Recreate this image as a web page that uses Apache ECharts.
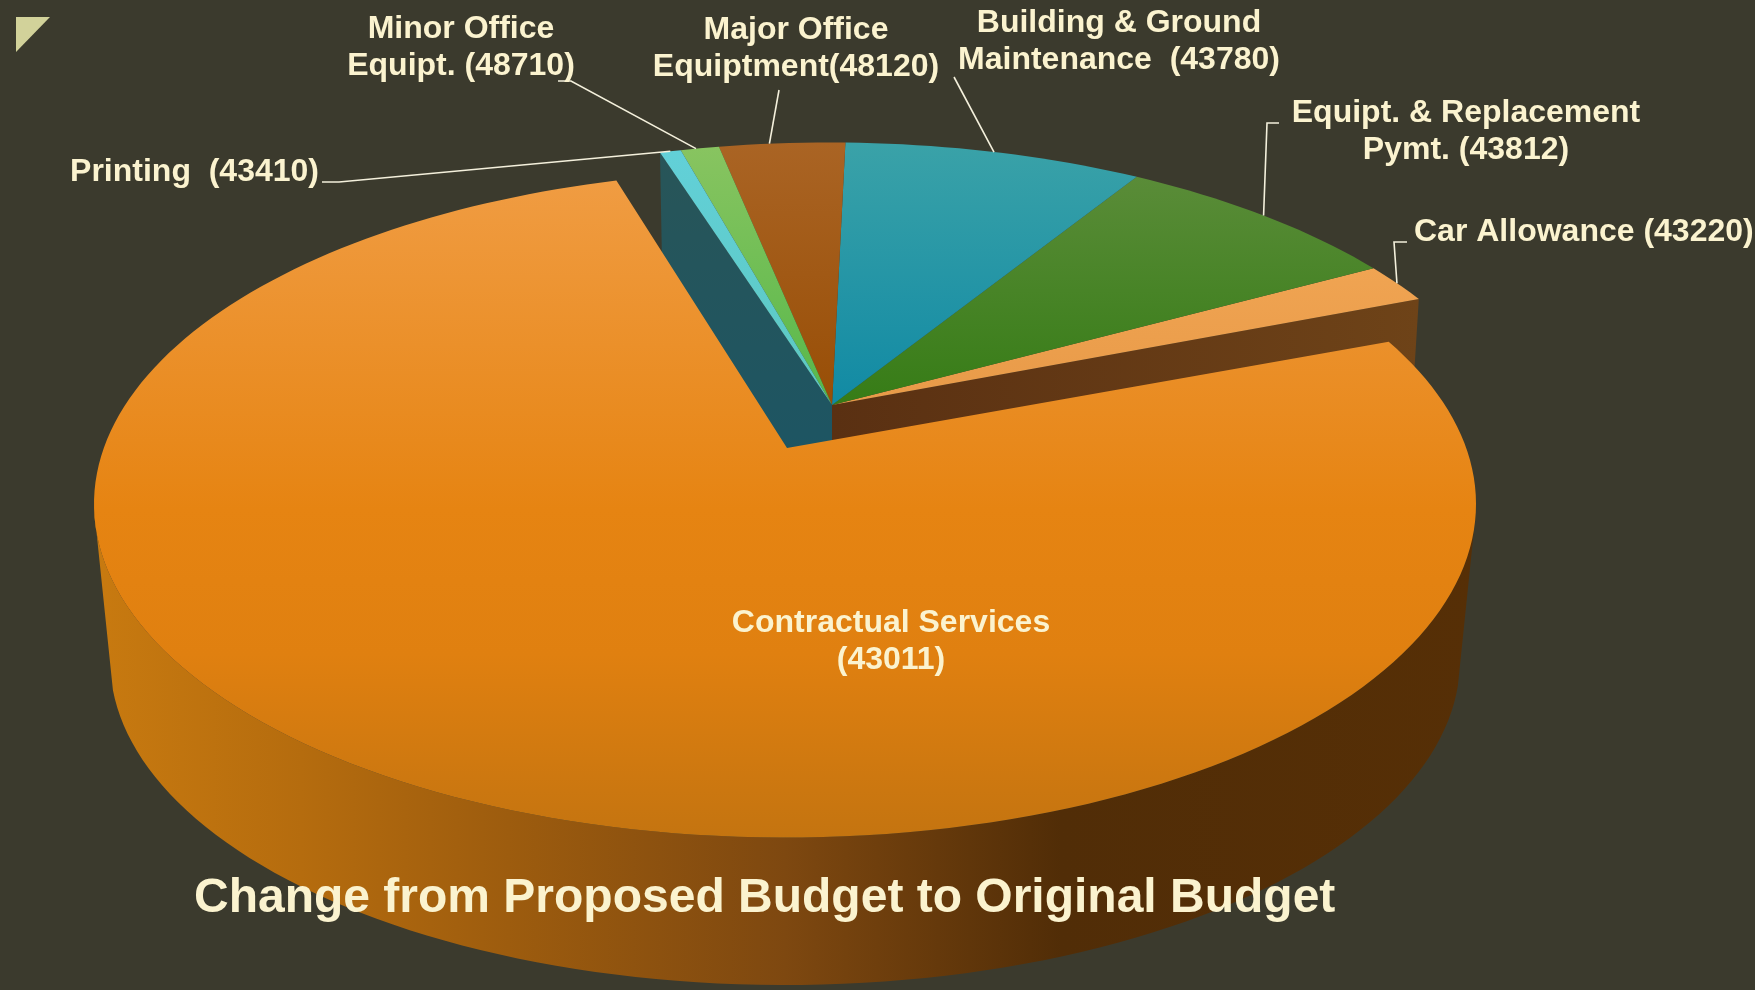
<!DOCTYPE html>
<html><head><meta charset="utf-8">
<style>html,body{margin:0;padding:0;background:#3b3a2d}#c{width:1755px;height:990px}</style>
<script src="https://cdn.jsdelivr.net/npm/echarts@6/dist/echarts.min.js"></script>
</head><body><div id="c"></div>
<script>
// DATA: clockwise from the Contractual Services slice (shares of the total)
const categories = ['Contractual Services\n(43011)','Printing  (43410)','Minor Office\nEquipt. (48710)','Major Office\nEquiptment(48120)','Building & Ground\nMaintenance  (43780)','Equipt. & Replacement\nPymt. (43812)','Car Allowance (43220)'];
const shares = [76.0, 0.6, 1.1, 3.6, 8.5, 8.2, 2.0];
const titleText = 'Change from Proposed Budget to Original Budget';

// LAYOUT / STYLE
const firstAngle = 69.7;
const mainDisc  = {cx:785, cy:504, rx:691, ry:333.5, k:-0.168, apexX:787, rot:0};
const groupDisc = {cx:829, cy:476, rx:696, ry:333.5, k:-0.213, apexX:832, rot:-0.7};
const lowerRim  = {cx:785, cy:660, rx:675, ry:325, sideCut:86};
const wallDepth = 140, wallShrink = 0.985;
const textColor = '#FBF3CF', lineColor = '#F4F0DC';
const labelFont = 'bold 32px "Liberation Sans", Arial, sans-serif';
const topFills = [
  [[0,'#f09c42'],[0.5,'#e68412'],[0.72,'#e08010'],[1,'#c47410']],
  [[0,'#62d0d8'],[1,'#5cc8c0']],
  [[0,'#88c460'],[1,'#56b84a']],
  [[0,'#aa6424'],[1,'#984e06']],
  [[0,'#3aa2a8'],[1,'#118aa4']],
  [[0,'#5a8c38'],[1,'#367c16']],
  [[0,'#f0a452'],[1,'#e89a48']]
];
const labelPos = [
  {x:891,y:642},{x:319,y:172,align:'right'},{x:461,y:48},{x:796,y:49},{x:1119,y:42},{x:1466,y:132},{x:1414,y:232,align:'left'}
];
const leaderKnees = [
  null,
  [[322,182],[339,182]],
  [[558,81],[571,81]],
  [[779,90]],
  [[954,77]],
  [[1279,123],[1267,123]],
  [[1407,242],[1394,242]]
];
const leaderAt = [0.5,0.5,0.4,0.4,0.5,0.5,0.5];

const total = shares.reduce((s,v)=>s+v,0);
let running = firstAngle;
const rows = shares.map((v,i)=>{const st=running; running+=v/total*360; return [v,st,running,i];});
const drawRows = rows.slice().reverse();

function rimPoint(d, deg0){
  const t = (deg0+d.rot)*Math.PI/180, u = Math.sin(t), v = -Math.cos(t);
  const s = Math.sqrt(1-d.k*d.k), q = 1+d.k*v;
  return {a:u*s/q, b:(v+d.k)/q, x:d.cx+d.rx*u*s/q, y:d.cy+d.ry*(v+d.k)/q};
}
function apex(d){ return [d.apexX, d.cy+d.ry*d.k]; }

function renderItem(params, api){
  const st = api.value(1), en = api.value(2), idx = api.value(3);
  const d = idx===0 ? mainDisc : groupDisc;
  const children = [];
  const A = apex(d);
  const pts = [A];
  const steps = Math.max(4, Math.ceil((en-st)/1.5));
  const wallTop = [], wallBot = [];
  for(let i=0;i<=steps;i++){
    const p = rimPoint(d, st+(en-st)*i/steps);
    pts.push([p.x,p.y]);
    if(p.b>=0){
      wallTop.push([p.x,p.y]);
      const n = Math.atan2(p.a, p.b);
      if(Math.abs(n)*180/Math.PI <= lowerRim.sideCut)
        wallBot.push([lowerRim.cx+lowerRim.rx*Math.sin(n), lowerRim.cy+lowerRim.ry*Math.cos(n)]);
    }
  }
  if(wallTop.length){
    children.push({type:'polygon', shape:{points:wallTop.concat(wallBot.reverse())},
      style:{fill:new echarts.graphic.LinearGradient(94,0,1476,0,[
        {offset:0,color:'#c87a10'},{offset:0.15,color:'#b56c0e'},{offset:0.3,color:'#9d5c0e'},
        {offset:0.5,color:'#7e4810'},{offset:0.7,color:'#512d07'},{offset:1,color:'#562f06'}],true)}});
  }
  const drop = (pt)=>[d.apexX+(pt[0]-d.apexX)*wallShrink, pt[1]+wallDepth];
  if(idx===1){ // cut face, left of the exploded group
    const r = rimPoint(d,st), o=[r.x,r.y];
    children.push({type:'polygon', shape:{points:[A,o,drop(o),drop(A)]},
      style:{fill:new echarts.graphic.LinearGradient(0,0,0,1,[{offset:0,color:'#285558'},{offset:1,color:'#1a5566'}])}});
  }
  if(idx===shares.length-1){ // cut face, right of the exploded group
    const r = rimPoint(d,en), o=[r.x,r.y];
    children.push({type:'polygon', shape:{points:[A,o,drop(o),drop(A)]},
      style:{fill:new echarts.graphic.LinearGradient(0,0,1,0,[{offset:0,color:'#5a3012'},{offset:1,color:'#6e4318'}])}});
  }
  children.push({type:'polygon', shape:{points:pts},
    style:{fill:new echarts.graphic.LinearGradient(0,0,0,1,topFills[idx].map(c=>({offset:c[0],color:c[1]})))}});
  // leader line, ending on the slice's rim
  if(leaderKnees[idx]){
    const m = rimPoint(d,st+(en-st)*leaderAt[idx]);
    children.push({type:'polyline', shape:{points:leaderKnees[idx].concat([[m.x,m.y]])},
      style:{fill:null,stroke:lineColor,lineWidth:1.6}, z2:5});
  }
  const lp = labelPos[idx];
  children.push({type:'text', z2:6, style:{text:categories[idx], x:lp.x, y:lp.y, fill:textColor,
    font:labelFont, align:lp.align||'center', verticalAlign:'middle', lineHeight:37}});
  return {type:'group', children};
}

const chart = echarts.init(document.getElementById('c'), null, {renderer:'canvas'});
chart.setOption({
  animation:false,
  backgroundColor:'#3b3a2d',
  title:{text:titleText, left:194, top:875, padding:0, z:20,
    textStyle:{color:textColor, fontFamily:'"Liberation Sans", Arial, sans-serif', fontWeight:'bold', fontSize:48}},
  graphic:[{type:'polygon', silent:true, shape:{points:[[16,17],[50,17],[16,52]]}, style:{fill:'#d2d29a'}}],
  series:[{type:'custom', coordinateSystem:'none', silent:true, clip:false, renderItem, data:drawRows}]
});
</script></body></html>
